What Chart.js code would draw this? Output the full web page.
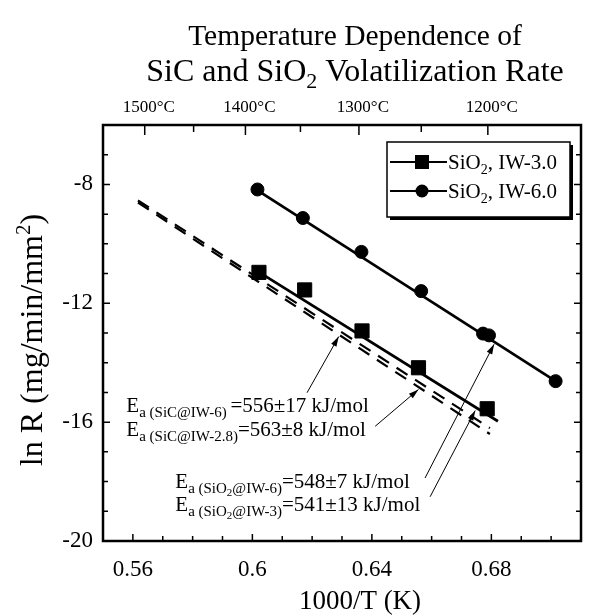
<!DOCTYPE html>
<html>
<head>
<meta charset="utf-8">
<script src="https://cdn.jsdelivr.net/npm/chart.js@4"></script>
<style>
html, body { margin: 0; padding: 0; background: #fff; }
#wrap { width: 592px; height: 615px; }
</style>
</head>
<body>
<div id="wrap"><canvas id="chart"></canvas></div>
<script>
// measured points: 1000/T (K) vs ln R
var iw3X = [0.6022, 0.6175, 0.6367, 0.6556, 0.6786];
var iw3Y = [-10.96, -11.55, -12.93, -14.17, -15.55];
var iw6X = [0.6017, 0.6169, 0.6365, 0.6565, 0.6772, 0.6792, 0.7015];
var iw6Y = [-8.17, -9.13, -10.27, -11.59, -13.02, -13.08, -14.62];

// fitted lines (end points)
var fitIw3X = [0.6022, 0.6822];
var fitIw3Y = [-10.95, -15.97];
var fitIw6X = [0.6017, 0.7015];
var fitIw6Y = [-8.2, -14.62];
var sicIw6X = [0.5617, 0.6795];
var sicIw6Y = [-8.54, -16.2];
var sicIw28X = [0.5617, 0.6795];
var sicIw28Y = [-8.61, -16.4];

// axes
var xTicks = [0.56, 0.6, 0.64, 0.68];
var yTicks = [-20, -16, -12, -8];
var tempTicks = [1500, 1400, 1300, 1200];
var tempMinor = [1450, 1350, 1250];

var serif = 'Liberation Serif';

// annotation texts, anchored in data units
var notes = [
    {x: 0.5578, y: -15.65, parts: [['E', 21, 0], ['a (SiC@IW-6) ', 15, 5], ['=556\u00b117 kJ/mol', 21, 0]]},
    {x: 0.5578, y: -16.46, parts: [['E', 21, 0], ['a (SiC@IW-2.8)', 15, 5], ['=563\u00b18 kJ/mol', 21, 0]]},
    {x: 0.5742, y: -18.21, parts: [['E', 21, 0], ['a (SiO', 15, 5], ['2', 11, 8], ['@IW-6)', 15, 5], ['=548\u00b17 kJ/mol', 21, 0]]},
    {x: 0.5742, y: -18.99, parts: [['E', 21, 0], ['a (SiO', 15, 5], ['2', 11, 8], ['@IW-3)', 15, 5], ['=541\u00b113 kJ/mol', 21, 0]]}
];
var arrows = [
    [0.6183, -15.01, 0.6289, -13.12],
    [0.6411, -16.14, 0.6556, -14.9],
    [0.6578, -17.88, 0.6809, -13.38],
    [0.6595, -18.51, 0.6746, -15.61]
];

function pts(xs, ys) {
    return xs.map(function (x, i) { return {x: x, y: ys[i]}; });
}

function richWidth(ctx, parts) {
    var w = 0;
    parts.forEach(function (p) {
        ctx.font = p[1] + 'px "' + serif + '"';
        w += ctx.measureText(p[0]).width;
    });
    return w;
}

function drawRich(ctx, x, y, parts) {
    parts.forEach(function (p) {
        ctx.font = p[1] + 'px "' + serif + '"';
        ctx.fillText(p[0], x, y + p[2]);
        x += ctx.measureText(p[0]).width;
    });
}

var extras = {
    id: 'extras',
    afterDraw: function (chart) {
        var ctx = chart.ctx, a = chart.chartArea;
        var sx = chart.scales.x, sy = chart.scales.y;
        ctx.save();
        ctx.fillStyle = '#000';
        ctx.strokeStyle = '#000';
        ctx.textBaseline = 'alphabetic';
        ctx.textAlign = 'left';

        // title
        var t1 = [['Temperature Dependence of', 29.5, 0]];
        var t2 = [['SiC and SiO', 32, 0], ['2', 22, 7], [' Volatilization Rate', 32, 0]];
        drawRich(ctx, 355 - richWidth(ctx, t1) / 2, 45, t1);
        drawRich(ctx, 355 - richWidth(ctx, t2) / 2, 81, t2);

        // axis titles
        var xt = [['1000/T (K)', 27, 0]];
        drawRich(ctx, 360 - richWidth(ctx, xt) / 2, 609, xt);
        var yt = [['ln R (mg/min/mm', 32, 0], ['2', 21, -12], [')', 32, 0]];
        ctx.save();
        ctx.translate(42, 340);
        ctx.rotate(-Math.PI / 2);
        drawRich(ctx, -richWidth(ctx, yt) / 2, 0, yt);
        ctx.restore();

        // frame
        ctx.lineWidth = 2.5;
        ctx.strokeRect(a.left, a.top, a.right - a.left, a.bottom - a.top);

        // inward ticks
        ctx.lineWidth = 1.5;
        ctx.beginPath();
        var i, px, py;
        for (i = 56; i <= 70; i++) {
            px = sx.getPixelForValue(i / 100);
            ctx.moveTo(px, a.bottom);
            ctx.lineTo(px, a.bottom - (i % 4 === 0 ? 7 : 5));
        }
        for (i = -19; i <= -7; i++) {
            py = sy.getPixelForValue(i);
            var len = (i % 4 === 0) ? 7 : 5;
            ctx.moveTo(a.left, py);
            ctx.lineTo(a.left + len, py);
            ctx.moveTo(a.right, py);
            ctx.lineTo(a.right - len, py);
        }
        tempTicks.forEach(function (t) {
            px = sx.getPixelForValue(1000 / (t + 273.15));
            ctx.moveTo(px, a.top);
            ctx.lineTo(px, a.top + 10);
        });
        tempMinor.forEach(function (t) {
            px = sx.getPixelForValue(1000 / (t + 273.15));
            ctx.moveTo(px, a.top);
            ctx.lineTo(px, a.top + 7);
        });
        ctx.stroke();

        // annotations
        notes.forEach(function (n) {
            drawRich(ctx, sx.getPixelForValue(n.x), sy.getPixelForValue(n.y), n.parts);
        });
        ctx.lineWidth = 1;
        arrows.forEach(function (r) {
            var x0 = sx.getPixelForValue(r[0]), y0 = sy.getPixelForValue(r[1]);
            var x1 = sx.getPixelForValue(r[2]), y1 = sy.getPixelForValue(r[3]);
            var ang = Math.atan2(y1 - y0, x1 - x0);
            ctx.beginPath();
            ctx.moveTo(x0, y0);
            ctx.lineTo(x1, y1);
            ctx.stroke();
            ctx.beginPath();
            ctx.moveTo(x1, y1);
            ctx.lineTo(x1 - 10 * Math.cos(ang) + 3 * Math.sin(ang), y1 - 10 * Math.sin(ang) - 3 * Math.cos(ang));
            ctx.lineTo(x1 - 10 * Math.cos(ang) - 3 * Math.sin(ang), y1 - 10 * Math.sin(ang) + 3 * Math.cos(ang));
            ctx.closePath();
            ctx.fill();
        });

        // legend
        var lx = 387, ly = 142, lw = 183, lh = 75;
        ctx.fillRect(lx + 3, ly + 3, lw, lh);
        ctx.fillStyle = '#fff';
        ctx.fillRect(lx, ly, lw, lh);
        ctx.fillStyle = '#000';
        ctx.lineWidth = 1.5;
        ctx.strokeRect(lx, ly, lw, lh);
        var rows = [
            {ds: 0, y: 162, parts: [['SiO', 21, 0], ['2', 14, 5], [', IW-3.0', 21, 0]]},
            {ds: 1, y: 191, parts: [['SiO', 21, 0], ['2', 14, 5], [', IW-6.0', 21, 0]]}
        ];
        rows.forEach(function (row) {
            var d = chart.data.datasets[row.ds];
            ctx.lineWidth = 2;
            ctx.beginPath();
            ctx.moveTo(lx + 3, row.y);
            ctx.lineTo(lx + 60, row.y);
            ctx.stroke();
            if (d.pointStyle === 'rect') {
                ctx.fillRect(lx + 35 - 7, row.y - 7, 14, 14);
            } else {
                ctx.beginPath();
                ctx.arc(lx + 35, row.y, 6.5, 0, Math.PI * 2);
                ctx.fill();
            }
            drawRich(ctx, lx + 61, row.y + 7, row.parts);
        });
        ctx.restore();
    }
};

var lineStyle = {showLine: true, pointRadius: 0, borderColor: '#000', order: 2};

new Chart(document.getElementById('chart'), {
    type: 'scatter',
    data: {
        datasets: [{
            label: 'SiO2, IW-3.0',
            data: pts(iw3X, iw3Y),
            pointStyle: 'rect',
            pointRadius: 10,
            backgroundColor: '#000',
            borderColor: '#000',
            order: 1
        }, {
            label: 'SiO2, IW-6.0',
            data: pts(iw6X, iw6Y),
            pointStyle: 'circle',
            pointRadius: 6.5,
            backgroundColor: '#000',
            borderColor: '#000',
            order: 1
        }, Object.assign({label: 'fit IW-3.0', data: pts(fitIw3X, fitIw3Y), borderWidth: 2.7}, lineStyle),
           Object.assign({label: 'fit IW-6.0', data: pts(fitIw6X, fitIw6Y), borderWidth: 2.7}, lineStyle),
           Object.assign({label: 'SiC IW-6', data: pts(sicIw6X, sicIw6Y), borderWidth: 2.2, borderDash: [13, 9]}, lineStyle),
           Object.assign({label: 'SiC IW-2.8', data: pts(sicIw28X, sicIw28Y), borderWidth: 2.2, borderDash: [13, 9]}, lineStyle)
        ]
    },
    options: {
        responsive: true,
        maintainAspectRatio: false,
        animation: false,
        layout: {padding: {top: 92, right: 9, bottom: 2, left: 0}},
        plugins: {legend: {display: false}, tooltip: {enabled: false}},
        scales: {
            x: {
                type: 'linear', position: 'bottom', min: 0.55, max: 0.71,
                afterBuildTicks: function (s) { s.ticks = xTicks.map(function (v) { return {value: v}; }); },
                afterFit: function (s) { s.height = 72; },
                grid: {display: false, drawTicks: false},
                border: {display: false},
                ticks: {
                    padding: 15, color: '#000', font: {family: serif, size: 23},
                    callback: function (v) { return String(+v.toFixed(2)); }
                }
            },
            x2: {
                type: 'linear', position: 'top', min: 0.55, max: 0.71,
                afterBuildTicks: function (s) {
                    s.ticks = tempTicks.map(function (t) { return {value: 1000 / (t + 273.15)}; });
                },
                afterFit: function (s) { s.height = 33; },
                grid: {display: false, drawTicks: false},
                border: {display: false},
                ticks: {
                    padding: 7, labelOffset: 4, color: '#000', font: {family: serif, size: 17},
                    callback: function (v, i) { return tempTicks[i] + '\u00b0C'; }
                }
            },
            y: {
                type: 'linear', min: -20, max: -6,
                afterBuildTicks: function (s) { s.ticks = yTicks.map(function (v) { return {value: v}; }); },
                afterFit: function (s) { s.width = 103; },
                grid: {display: false, drawTicks: false},
                border: {display: false},
                ticks: {padding: 10, color: '#000', font: {family: serif, size: 23}}
            }
        }
    },
    plugins: [extras]
});
</script>
</body>
</html>
